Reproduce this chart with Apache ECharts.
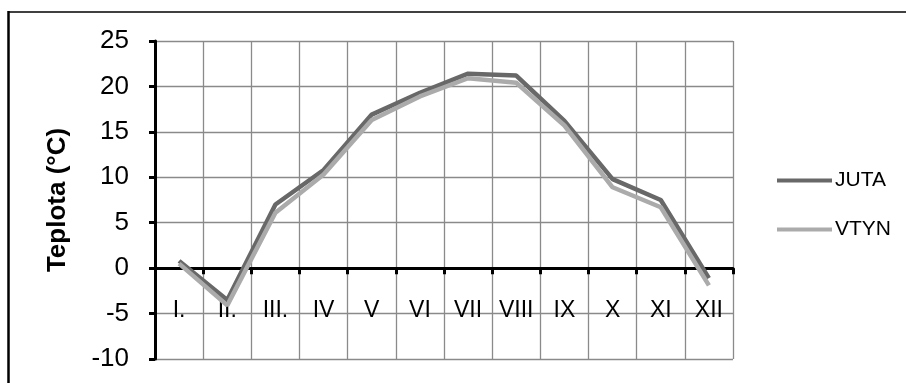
<!DOCTYPE html>
<html>
<head>
<meta charset="utf-8">
<script src="https://cdn.jsdelivr.net/npm/echarts@6/dist/echarts.min.js"></script>
<style>html,body{margin:0;padding:0;background:#fff}#c{width:906px;height:383px}</style>
</head>
<body>
<div id="c"></div>
<script>
var months = ['I.', 'II.', 'III.', 'IV', 'V', 'VI', 'VII', 'VIII', 'IX', 'X', 'XI', 'XII'];
var juta = [0.8, -3.5, 7.0, 10.8, 16.9, 19.3, 21.4, 21.2, 16.2, 9.8, 7.5, -1.1];
var vtyn = [0.5, -4.1, 6.1, 10.3, 16.3, 18.9, 20.9, 20.4, 15.7, 8.9, 6.7, -1.9];
var yTicks = {min: -10, max: 25, interval: 5};
var seriesNames = ['JUTA', 'VTYN'];
var FONT = 'Liberation Sans';

var chart = echarts.init(document.getElementById('c'), null, {renderer: 'canvas'});
chart.setOption({
  animation: false,
  backgroundColor: '#fff',
  textStyle: {fontFamily: FONT},
  grid: {left: 155, top: 41, width: 578, height: 318, containLabel: false, outerBoundsMode: 'none'},
  legend: [
    {data: [seriesNames[0]], left: 772, top: 165, orient: 'vertical', icon: 'rect', itemWidth: 55, itemHeight: 4, itemGap: 0,
      textStyle: {fontFamily: FONT, fontSize: 21, color: '#000', padding: [0, 0, 0, -2]}},
    {data: [seriesNames[1]], left: 772, top: 214, orient: 'vertical', icon: 'rect', itemWidth: 55, itemHeight: 4, itemGap: 0,
      textStyle: {fontFamily: FONT, fontSize: 21, color: '#000', padding: [0, 0, 0, -2]}}
  ],
  xAxis: {
    type: 'category',
    data: months,
    boundaryGap: true,
    axisLine: {onZero: true, lineStyle: {color: '#000', width: 3}},
    axisTick: {show: true, length: 6, inside: false, lineStyle: {color: '#000', width: 3}},
    axisLabel: {fontFamily: FONT, fontSize: 23, color: '#000', margin: -60, interval: 0},
    splitLine: {show: true, lineStyle: {color: '#8a8a8a', width: 1.3}}
  },
  yAxis: {
    type: 'value',
    min: yTicks.min, max: yTicks.max, interval: yTicks.interval,
    name: 'Teplota (°C)',
    nameLocation: 'middle',
    nameGap: 84,
    nameTextStyle: {fontFamily: FONT, fontSize: 26, fontWeight: 'bold', color: '#000'},
    axisLine: {show: true, lineStyle: {color: '#000', width: 3}},
    axisTick: {show: true, length: 6, lineStyle: {color: '#000', width: 3}},
    axisLabel: {fontFamily: FONT, fontSize: 26, color: '#000', margin: 26},
    splitLine: {show: true, lineStyle: {color: '#8a8a8a', width: 1.3}}
  },
  series: [
    {name: seriesNames[0], type: 'line', data: juta, symbol: 'none', lineStyle: {color: '#686868', width: 4.5}, itemStyle: {color: '#686868'}},
    {name: seriesNames[1], type: 'line', data: vtyn, symbol: 'none', lineStyle: {color: '#ababab', width: 4.5}, itemStyle: {color: '#ababab'}}
  ],
  graphic: [
    {type: 'line', shape: {x1: 8.5, y1: 11, x2: 8.5, y2: 383}, style: {stroke: '#000', lineWidth: 2.5}},
    {type: 'line', shape: {x1: 8, y1: 12, x2: 906, y2: 12}, style: {stroke: '#000', lineWidth: 1.5}}
  ]
});
</script>
</body>
</html>
